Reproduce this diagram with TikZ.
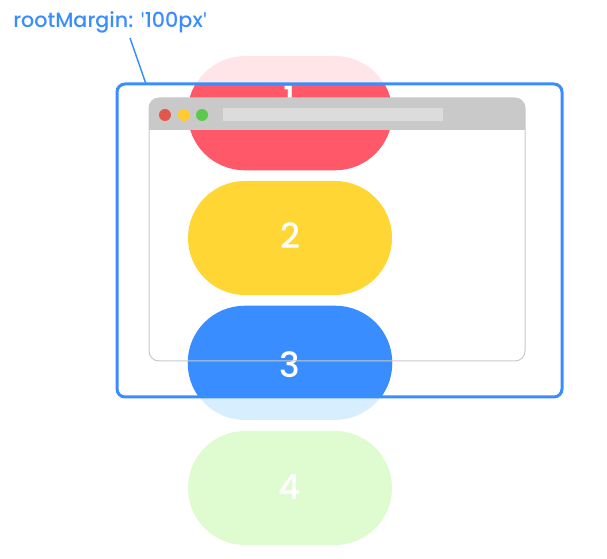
\documentclass[tikz,border=0pt]{standalone}
\usepackage{fontspec}
\setmainfont{Poppins}
\newfontfamily\mediumfont{Poppins Medium}
\newfontfamily\quotefont{Lato}
\usepackage{tikz}
\usetikzlibrary{positioning,calc}
\definecolor{marginBlue}{HTML}{3A8DFF}
\definecolor{pillRed}{HTML}{FF5868}
\definecolor{pillRedFade}{HTML}{FFE5E7}
\definecolor{pillYellow}{HTML}{FFD634}
\definecolor{pillBlue}{HTML}{3A8DFF}
\definecolor{pillBlueFade}{HTML}{D7EEFF}
\definecolor{pillGreenFade}{HTML}{DEFCD0}
\definecolor{winGray}{HTML}{C9C9C9}
\definecolor{winBar}{HTML}{DCDCDC}
\definecolor{dotRed}{HTML}{E2574C}
\definecolor{dotYellow}{HTML}{FFCB2F}
\definecolor{dotGreen}{HTML}{5CC84E}
\newcommand{\sq}{{\quotefont\symbol{39}}}
\tikzset{
  pill/.style={rectangle,rounded corners=42.75pt,minimum width=153pt,
    minimum height=85.5pt,inner sep=0pt},
  pillnum/.style={text=white,font=\fontsize{26}{26}\selectfont\mediumfont,inner sep=0pt},
  rootframe/.style={draw=marginBlue,line width=2.25pt,rounded corners=6pt},
  winframe/.style={draw=winGray,line width=0.75pt,rounded corners=7.5pt},
  windot/.style={circle,inner sep=0pt,minimum size=9pt},
  marginlabel/.style={text=marginBlue,font=\fontsize{15.5}{15.5}\selectfont\mediumfont,inner sep=0pt}
}

\begin{document}
\begin{tikzpicture}[x=0.75pt,y=-0.75pt]
  \useasboundingbox (0,0) rectangle (607,559);
  % faded pills outside the root margin
  \node[pill,fill=pillRedFade] (p1) at (290,113) {};
  \node[pill,fill=pillYellow] (p2) at (290,238) {};
  \node[pill,fill=pillBlueFade] (p3) at (290,363) {};
  \node[pill,fill=pillGreenFade] (p4) at (290,488) {};
  % full colour inside the root margin
  \begin{scope}
    \clip (117,84) rectangle (562,397);
    \fill[pillRed,rounded corners=42.75pt] (p1.south west) rectangle (p1.north east);
    \fill[pillBlue,rounded corners=42.75pt] (p3.south west) rectangle (p3.north east);
  \end{scope}
  \node[pillnum] (n1) at (290,99) {1};
  \node[pillnum] (n2) at (290,236) {2};
  \node[pillnum] (n3) at (290,365) {3};
  \node[pillnum] (n4) at (290,487) {4};
  % browser window
  \begin{scope}
    \clip (140,90) rectangle (535,130);
    \fill[winGray,rounded corners=7.5pt] (149,98) rectangle (525,361);
  \end{scope}
  \draw[winframe] (149,98) rectangle (525,361);
  \node[windot,fill=dotRed] (red) at (165,115) {};
  \node[windot,fill=dotYellow] (yellow) at (184,115) {};
  \node[windot,fill=dotGreen] (green) at (202,115) {};
  \fill[winBar] (223,108) rectangle (443,121);
  % root margin
  \draw[rootframe] (117,84) rectangle (562,397);
  \node[marginlabel,anchor=base west] (margin) at (13,28) {rootMargin: \sq100px\sq};
  \coordinate (leadtop) at (130,38);
  \coordinate (leadfoot) at (146,84);
  \draw[marginBlue,line width=1.1pt] (leadtop) -- (leadfoot);
\end{tikzpicture}
\end{document}
